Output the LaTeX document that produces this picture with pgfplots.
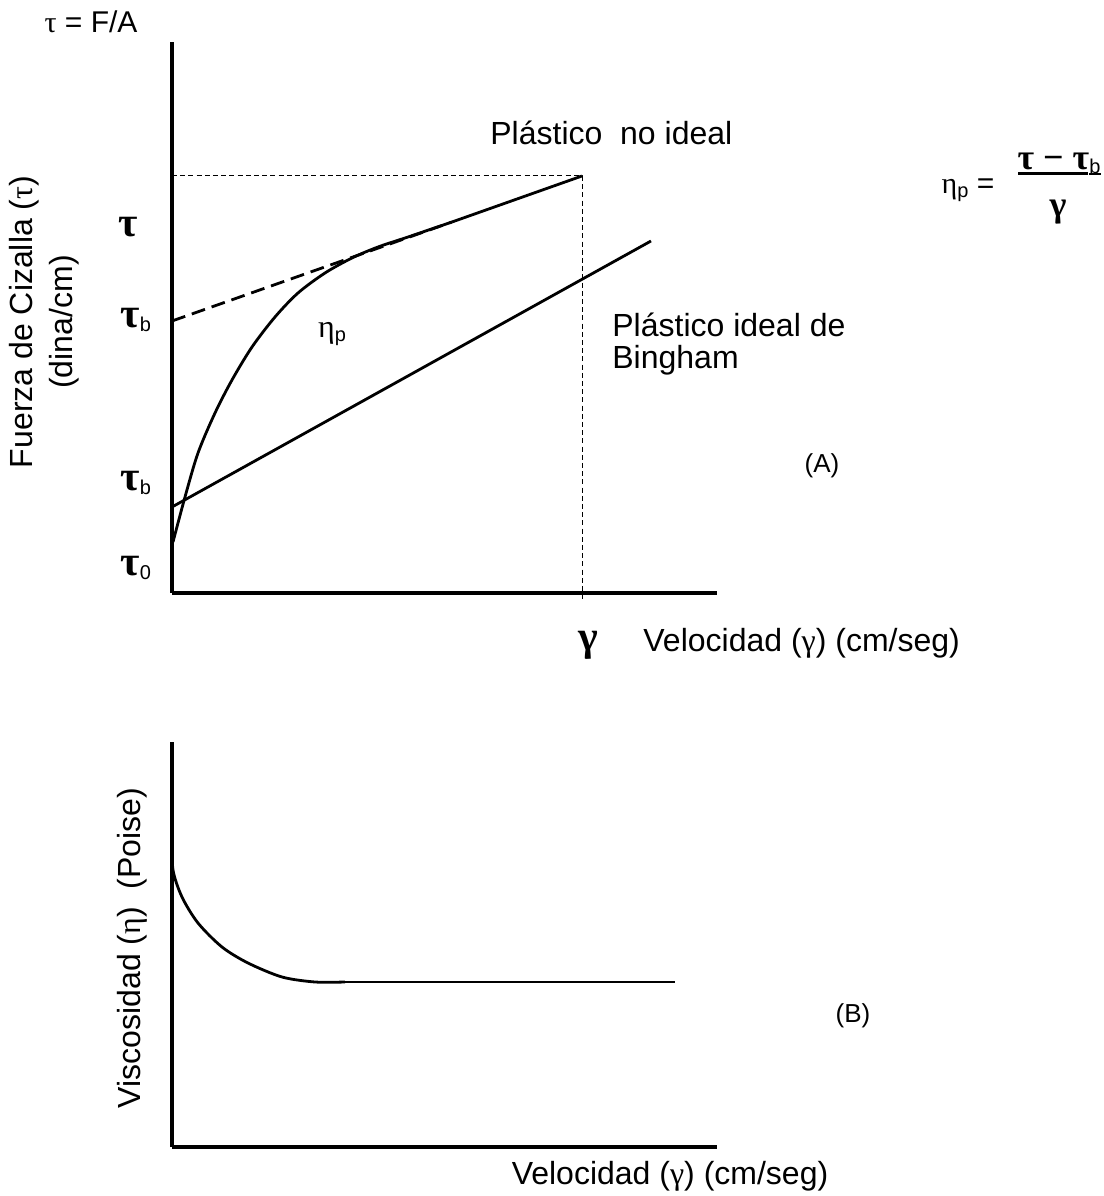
\documentclass[border=0pt]{standalone}
\usepackage{fontspec}
\setmainfont{Liberation Sans}
\newfontfamily\gr{Liberation Serif}
\usepackage{pgfplots}
\pgfplotsset{compat=1.18}

\newcommand\fs[1]{\fontsize{#1}{#1}\selectfont}
\newcommand\sub[1]{\raisebox{-2pt}{\fs{10}#1}}
\newcommand\Tau{{\gr\bfseries\fs{21}τ}}

% pixel-like units, 1 px = 0.5pt
\pgfplotsset{esquema/.style={
  x=0.5pt, y=0.5pt, xmin=172, xmax=717,
  axis lines=left, axis line style={-, line width=1.6pt},
  xtick=\empty, ytick=\empty, clip=false, enlargelimits=false,
}}
\tikzset{
  linea/.style={black, line width=1.4pt, mark=none},
  fino/.style={black, mark=none, line width=0.5pt, dash pattern=on 2.5pt off 1.6pt},
  grueso/.style={black, mark=none, line width=1.4pt, dash pattern=on 7pt off 3.5pt},
  every node/.append style={inner sep=0pt},
}

\begin{document}
\begin{tikzpicture}
\useasboundingbox (0,0) rectangle (552pt,598pt);

% (A) fuerza de cizalla
\begin{axis}[esquema, ymin=603, ymax=1154, at={(86pt,301.5pt)}, anchor=south west]
\addplot[fino] coordinates {(172,1020) (582,1020) (582,595)};
\addplot[grueso] coordinates {(172,875) (452,974)};
\addplot[linea] coordinates {(452,974) (582,1020)};
\addplot[linea, smooth] coordinates {
  (173,654) (185,699) (198,743) (215,783) (232,816) (252,849) (275,879)
  (298,903) (325,923) (352,938) (378,949) (408,959) (452,974)};
% Bingham
\addplot[linea] coordinates {(172,689) (651,955)};

\node[font=\fs{15}] at (axis cs:91,1174) {{\gr τ} = F/A};
\node[font=\fs{16}, anchor=west] at (axis cs:490,1063) {Plástico\ \ no ideal};
\node[font=\fs{16}, anchor=west] at (axis cs:612,871) {Plástico ideal de};
\node[font=\fs{16}, anchor=west] at (axis cs:612,836) {Bingham};
\node[font=\fs{13}] at (axis cs:822,730) {(A)};
\node[font=\fs{16}] at (axis cs:332,862) {{\gr η}\sub{p}};

\node at (axis cs:128,969) {\Tau};
\node[anchor=west] at (axis cs:120,876) {\Tau\sub{b}};
\node[anchor=west] at (axis cs:120,713) {\Tau\sub{b}};
\node[anchor=west] at (axis cs:120,628) {\Tau\sub{0}};

\node at (axis cs:588,551) {{\gr\bfseries\fs{21}γ}};
\node[font=\fs{16}, anchor=west] at (axis cs:643,553) {Velocidad ({\gr γ}) (cm/seg)};

\node[font=\fs{16}, rotate=90] at (axis cs:24,874) {Fuerza de Cizalla ({\gr τ})};
\node[font=\fs{16}, rotate=90] at (axis cs:64,874) {(dina/cm)};

% formula
\node[font=\fs{15}] at (axis cs:968,1006) {{\gr η}\sub{p} =};
\node at (axis cs:1059,1033) {{\gr\bfseries\fs{18}τ − τ}\sub{b}};
\node at (axis cs:1053,1022) {\rule{35pt}{1.5pt}};
\node at (axis cs:1095,1022) {\rule{6pt}{0.6pt}};
\node at (axis cs:1058,984) {{\gr\bfseries\fs{18}γ}};
\end{axis}

% (B) viscosidad
\begin{axis}[esquema, ymin=49, ymax=454, at={(86pt,24.5pt)}, anchor=south west]
\addplot[linea, smooth] coordinates {
  (172,359) (173,326) (182,299) (198,273) (222,249) (248,233) (282,219) (315,214) (345,214)};
\addplot[linea] coordinates {(345,214) (675,214)};

\node[font=\fs{16}, rotate=90] at (axis cs:132,248) {Viscosidad ({\gr η})\ \ (Poise)};
\node[font=\fs{13}] at (axis cs:853,180) {(B)};
\node[font=\fs{16}] at (axis cs:670,20) {Velocidad ({\gr γ}) (cm/seg)};
\end{axis}
\end{tikzpicture}
\end{document}
